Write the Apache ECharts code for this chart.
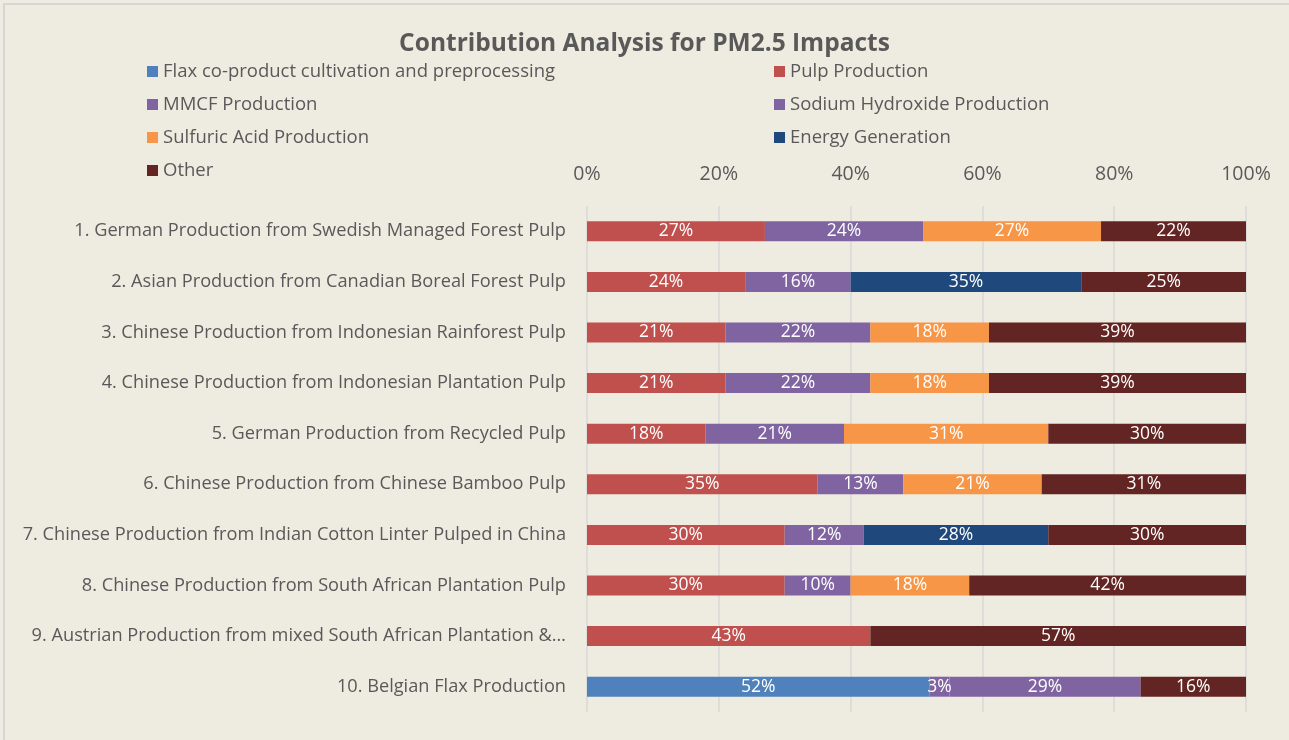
<!DOCTYPE html>
<html>
<head>
<meta charset="utf-8">
<script src="https://cdn.jsdelivr.net/npm/echarts@6/dist/echarts.min.js"></script>
<style>
  html, body { margin: 0; padding: 0; background: #EEEBE0; }
  #main { width: 1289px; height: 740px; }
</style>
</head>
<body>
<div id="main"></div>
<script>
  // categories, top to bottom
  var categories = [
    '1. German Production from Swedish Managed Forest Pulp',
    '2. Asian Production from Canadian Boreal Forest Pulp',
    '3. Chinese Production from Indonesian Rainforest Pulp',
    '4. Chinese Production from Indonesian Plantation Pulp',
    '5. German Production from Recycled Pulp',
    '6. Chinese Production from Chinese Bamboo Pulp',
    '7. Chinese Production from Indian Cotton Linter Pulped in China',
    '8. Chinese Production from South African Plantation Pulp',
    '9. Austrian Production from mixed South African Plantation &\u2026',
    '10. Belgian Flax Production'
  ];
  // shares in %
  var flax      = [0, 0, 0, 0, 0, 0, 0, 0, 0, 52];
  var pulp      = [27, 24, 21, 21, 18, 35, 30, 30, 43, 0];
  var mmcf      = [24, 16, 22, 22, 21, 13, 12, 10, 0, 3];
  var naoh      = [0, 0, 0, 0, 0, 0, 0, 0, 0, 29];
  var sulfuric  = [27, 0, 18, 18, 31, 21, 0, 18, 0, 0];
  var energy    = [0, 35, 0, 0, 0, 0, 28, 0, 0, 0];
  var other     = [22, 25, 39, 39, 30, 31, 30, 42, 57, 16];

  var font = 'Open Sans';
  var chart = echarts.init(document.getElementById('main'));

  function mk(name, data, color) {
    return {
      name: name,
      type: 'bar',
      stack: 'total',
      barWidth: 20,
      data: data,
      itemStyle: { color: color },
      label: {
        show: true,
        color: '#fff',
        fontFamily: font,
        fontSize: 17.5,
        formatter: function (p) { return p.value > 0 ? p.value + '%' : ''; }
      }
    };
  }

  var legendText = { fontFamily: font, fontSize: 18.5, color: '#595959' };

  var option = {
    backgroundColor: '#EEEBE0',
    animation: false,
    title: {
      text: 'Contribution Analysis for PM2.5 Impacts',
      left: 'center',
      top: 27,
      textStyle: { fontFamily: font, fontSize: 24.5, fontWeight: 'bold', color: '#595959' }
    },
    legend: [{
      orient: 'vertical',
      left: 142,
      top: 57,
      itemGap: 14,
      itemWidth: 11,
      itemHeight: 11,
      icon: 'rect',
      textStyle: legendText,
      data: ['Flax co-product cultivation and preprocessing', 'MMCF Production', 'Sulfuric Acid Production', 'Other']
    }, {
      orient: 'vertical',
      left: 769,
      top: 57,
      itemGap: 14,
      itemWidth: 11,
      itemHeight: 11,
      icon: 'rect',
      textStyle: legendText,
      data: ['Pulp Production', 'Sodium Hydroxide Production', 'Energy Generation']
    }],
    grid: { left: 587, right: 43, top: 206, bottom: 28, containLabel: false },
    xAxis: {
      type: 'value',
      position: 'top',
      min: 0,
      max: 100,
      interval: 20,
      axisLine: { show: false },
      axisTick: { show: false },
      splitLine: { lineStyle: { color: '#D9D9D9', width: 1.5 } },
      axisLabel: {
        margin: 22,
        fontFamily: font,
        fontSize: 19.5,
        color: '#595959',
        formatter: '{value}%'
      }
    },
    yAxis: {
      type: 'category',
      inverse: true,
      data: categories,
      axisLine: { show: false },
      axisTick: { show: false },
      axisLabel: { margin: 21, fontFamily: font, fontSize: 18.2, color: '#595959' }
    },
    graphic: [{
      type: 'rect',
      shape: { x: 4, y: 4, width: 1400, height: 900 },
      style: { fill: 'none', stroke: '#D6D6D6', lineWidth: 2 },
      silent: true
    }],
    series: [
      mk('Flax co-product cultivation and preprocessing', flax, '#4F81BD'),
      mk('Pulp Production', pulp, '#C0504D'),
      mk('MMCF Production', mmcf, '#8064A2'),
      mk('Sodium Hydroxide Production', naoh, '#8064A2'),
      mk('Sulfuric Acid Production', sulfuric, '#F79646'),
      mk('Energy Generation', energy, '#1F497D'),
      mk('Other', other, '#632523')
    ]
  };
  chart.setOption(option);
</script>
</body>
</html>
